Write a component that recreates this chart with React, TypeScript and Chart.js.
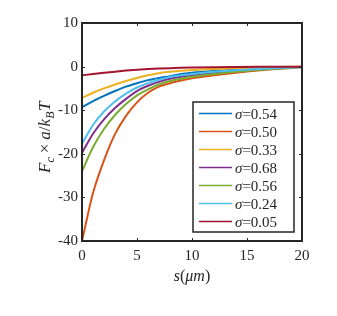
import React, { useEffect, useRef } from "react";
import { Chart, registerables } from "chart.js";

Chart.register(...registerables);

const sValues = [0, 1, 2, 3, 4, 5, 6, 7, 8, 9, 10, 12, 14, 16, 18, 20];

const sigmaLabels = ["0.54", "0.50", "0.33", "0.68", "0.56", "0.24", "0.05"];
const seriesColors = ["#0072BD", "#D95319", "#EDB120", "#7E2F8E", "#77AC30", "#4DBEEE", "#A2142F"];

const blue054 = [-9.3, -7.9, -6.7, -5.6, -4.6, -3.8, -3.1, -2.6, -2.2, -1.7, -1.4, -1.0, -0.7, -0.46, -0.26, -0.06];
const orange050 = [-40, -29, -21.5, -15.5, -11.3, -8.2, -6.0, -4.6, -3.8, -3.2, -2.7, -2.0, -1.4, -0.9, -0.5, -0.1];
const yellow033 = [-7.2, -6.0, -5.0, -4.1, -3.3, -2.6, -2.0, -1.5, -1.2, -0.95, -0.78, -0.53, -0.36, -0.23, -0.12, -0.03];
const purple068 = [-19.8, -15.4, -12.1, -9.5, -7.4, -5.6, -4.4, -3.5, -2.8, -2.35, -2.0, -1.45, -1.0, -0.65, -0.35, -0.08];
const green056 = [-24, -18.5, -14.3, -11.1, -8.6, -6.6, -5.2, -4.1, -3.3, -2.8, -2.35, -1.7, -1.2, -0.8, -0.45, -0.1];
const cyan024 = [-17.7, -13.4, -10.3, -8.0, -6.2, -4.8, -3.8, -3.0, -2.4, -2.0, -1.7, -1.2, -0.82, -0.53, -0.3, -0.07];
const red005 = [-2.0, -1.7, -1.42, -1.16, -0.92, -0.72, -0.56, -0.44, -0.35, -0.28, -0.22, -0.14, -0.09, -0.05, -0.03, -0.01];

const seriesValues = [blue054, orange050, yellow033, purple068, green056, cyan024, red005];

const xTickValues = [0, 5, 10, 15, 20];
const yTickValues = [10, 0, -10, -20, -30, -40];

const AXIS_COLOR = "#262626";
const SERIF = '"Liberation Serif", "Times New Roman", serif';

type Part = { t: string; it?: boolean; sub?: boolean; gap?: number };

function drawRich(ctx: CanvasRenderingContext2D, parts: Part[], cx: number, baseY: number, size: number) {
  const subSize = Math.round(size * 0.7);
  const fontFor = (p: Part) => `${p.it ? "italic " : ""}${p.sub ? subSize : size}px ${SERIF}`;
  let total = 0;
  const widths = parts.map((p) => {
    ctx.font = fontFor(p);
    const w = ctx.measureText(p.t).width + (p.gap || 0) * 2;
    total += w;
    return w;
  });
  let x = cx - total / 2;
  ctx.textAlign = "left";
  ctx.textBaseline = "alphabetic";
  parts.forEach((p, i) => {
    ctx.font = fontFor(p);
    ctx.fillText(p.t, x + (p.gap || 0), baseY + (p.sub ? size * 0.25 : 0));
    x += widths[i];
  });
}

const decorPlugin = {
  id: "decor",
  afterDraw(chart: any) {
    const { ctx, chartArea: a, scales } = chart;
    const xs = scales.x;
    const ys = scales.y;
    ctx.save();
    ctx.strokeStyle = AXIS_COLOR;
    ctx.fillStyle = AXIS_COLOR;

    // inward tick marks
    ctx.lineWidth = 1;
    const tl = 3;
    ctx.beginPath();
    xTickValues.forEach((v) => {
      const px = Math.round(xs.getPixelForValue(v)) + 0.5;
      ctx.moveTo(px, a.bottom);
      ctx.lineTo(px, a.bottom - tl);
      ctx.moveTo(px, a.top);
      ctx.lineTo(px, a.top + tl);
    });
    yTickValues.forEach((v) => {
      const py = Math.round(ys.getPixelForValue(v)) + 0.5;
      ctx.moveTo(a.left, py);
      ctx.lineTo(a.left + tl, py);
      ctx.moveTo(a.right, py);
      ctx.lineTo(a.right - tl, py);
    });
    ctx.stroke();

    // frame
    ctx.lineWidth = 2;
    ctx.strokeRect(a.left, a.top, a.right - a.left, a.bottom - a.top);

    // legend
    const lw = 101;
    const lh = 130;
    const lx = a.right - 8 - lw;
    const ly = a.bottom - 9 - lh;
    ctx.fillStyle = "#ffffff";
    ctx.fillRect(lx, ly, lw, lh);
    ctx.lineWidth = 1.5;
    ctx.strokeStyle = AXIS_COLOR;
    ctx.strokeRect(lx, ly, lw, lh);
    const rowH = 18;
    chart.data.datasets.forEach((ds: any, i: number) => {
      const cy = ly + 11.6 + i * rowH;
      ctx.strokeStyle = ds.borderColor;
      ctx.lineWidth = 1.5;
      ctx.beginPath();
      ctx.moveTo(lx + 6, cy);
      ctx.lineTo(lx + 39, cy);
      ctx.stroke();
      ctx.fillStyle = AXIS_COLOR;
      ctx.textAlign = "left";
      ctx.textBaseline = "alphabetic";
      ctx.font = `italic 15px ${SERIF}`;
      const sx = lx + 42;
      ctx.fillText("σ", sx, cy + 5);
      const w = ctx.measureText("σ").width;
      ctx.font = `15px ${SERIF}`;
      ctx.fillText("=" + sigmaLabels[i], sx + w, cy + 5);
    });

    // axis titles
    ctx.fillStyle = AXIS_COLOR;
    drawRich(
      ctx,
      [{ t: "s", it: true }, { t: "(" }, { t: "μm", it: true }, { t: ")" }],
      (a.left + a.right) / 2,
      281,
      16
    );
    ctx.save();
    ctx.translate(50, (a.top + a.bottom) / 2 + 5);
    ctx.rotate(-Math.PI / 2);
    drawRich(
      ctx,
      [
        { t: "F", it: true },
        { t: "c", it: true, sub: true },
        { t: "×", gap: 4 },
        { t: "a", it: true },
        { t: "/" },
        { t: "k", it: true },
        { t: "B", it: true, sub: true },
        { t: "T", it: true, gap: 0.5 },
      ],
      0,
      0,
      17
    );
    ctx.restore();
    ctx.restore();
  },
};

export default function App() {
  const ref = useRef<HTMLCanvasElement | null>(null);
  useEffect(() => {
    if (!ref.current) return;
    const datasets = seriesValues.map((vals, i) => ({
      label: "σ=" + sigmaLabels[i],
      data: vals.map((y, j) => ({ x: sValues[j], y })),
      borderColor: seriesColors[i],
      backgroundColor: seriesColors[i],
      borderWidth: 2,
      pointRadius: 0,
      cubicInterpolationMode: "monotone" as const,
      fill: false,
      order: -i,
    }));
    const chart = new Chart(ref.current, {
      type: "line",
      data: { datasets },
      options: {
        responsive: false,
        animation: false,
        devicePixelRatio: 1,
        layout: { padding: { top: 23, right: 35, left: 0, bottom: 25 } },
        plugins: { legend: { display: false }, tooltip: { enabled: false } },
        scales: {
          x: {
            type: "linear",
            min: 0,
            max: 20,
            grid: { display: false, drawTicks: false },
            border: { display: false },
            ticks: {
              stepSize: 5,
              padding: 6,
              color: AXIS_COLOR,
              font: { family: SERIF, size: 15 },
              maxRotation: 0,
            },
            afterFit: (axis: any) => {
              axis.height = 50;
            },
          },
          y: {
            type: "linear",
            min: -40,
            max: 10,
            grid: { display: false, drawTicks: false },
            border: { display: false },
            ticks: {
              stepSize: 10,
              padding: 4,
              color: AXIS_COLOR,
              font: { family: SERIF, size: 15 },
            },
            afterFit: (axis: any) => {
              axis.width = 82;
            },
          },
        },
      },
      plugins: [decorPlugin],
    });
    return () => chart.destroy();
  }, []);
  return (
    <div style={{ position: "fixed", left: 0, top: 0, width: 337, height: 316, background: "#fff" }}>
      <canvas ref={ref} width={337} height={316} style={{ display: "block" }} />
    </div>
  );
}
